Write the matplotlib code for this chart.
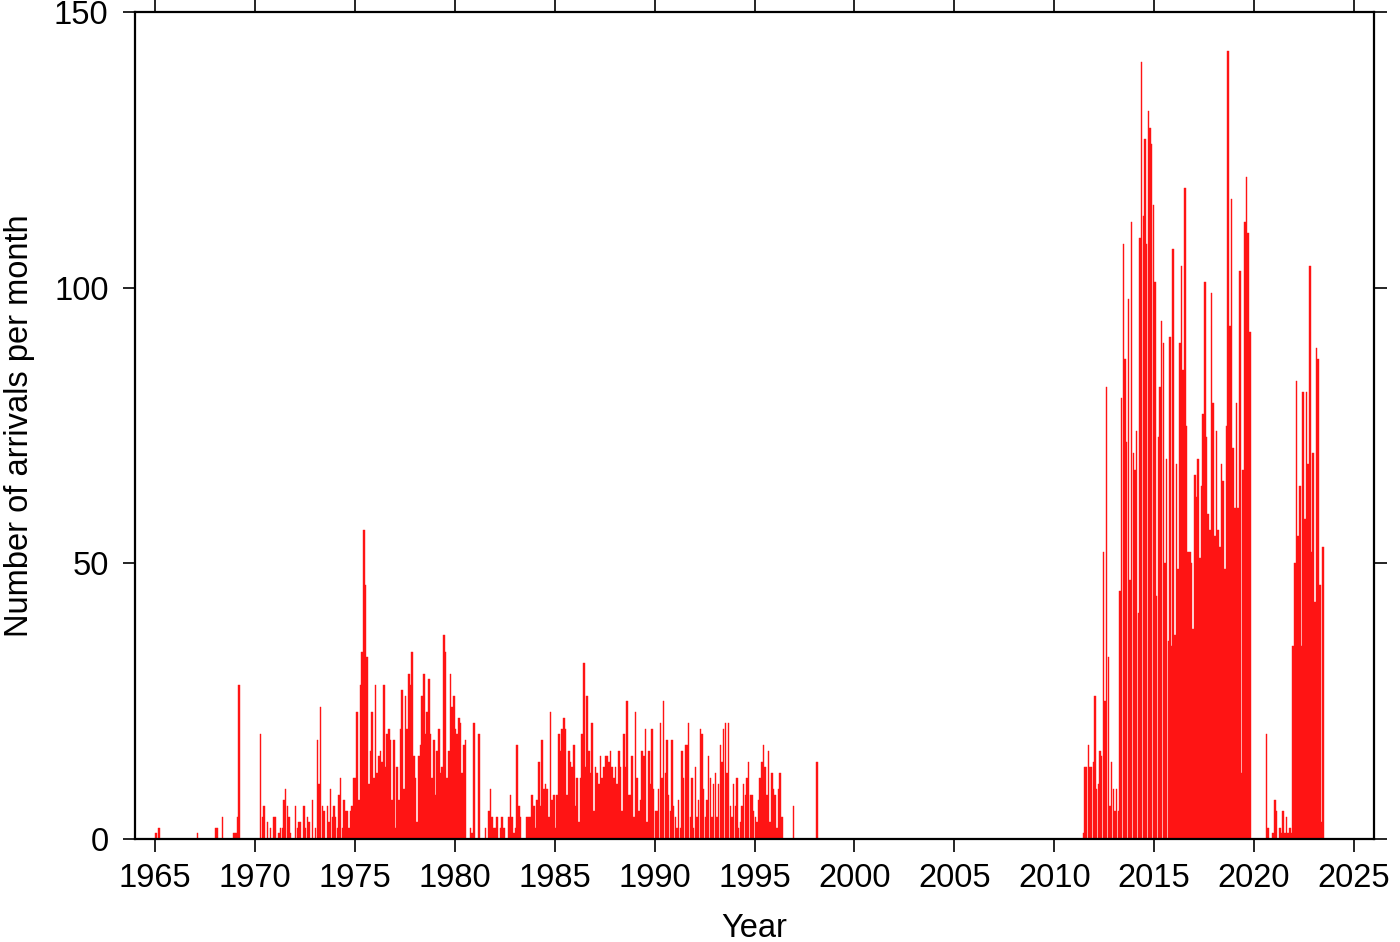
import matplotlib.pyplot as plt
import numpy as np

# monthly arrival counts, one row of 12 months per year
start_1965 = 1965
counts_1965 = [
    [1, 0, 2, 0, 0, 0, 0, 0, 0, 0, 0, 0],          # 1965
    [0, 0, 0, 0, 0, 0, 0, 0, 0, 0, 0, 0],          # 1966
    [0, 1, 0, 0, 0, 0, 0, 0, 0, 0, 0, 0],          # 1967
    [2, 2, 0, 0, 4, 0, 0, 0, 0, 0, 0, 1],          # 1968
    [1, 4, 28, 0, 0, 0, 0, 0, 0, 0, 0, 0],         # 1969
    [0, 0, 0, 19, 4, 6, 0, 3, 0, 2, 0, 4],         # 1970
    [4, 0, 1, 2, 2, 7, 9, 6, 4, 1, 0, 0],          # 1971
    [6, 2, 3, 3, 0, 6, 2, 4, 3, 0, 7, 0],          # 1972
    [2, 18, 10, 24, 6, 5, 0, 6, 3, 9, 4, 6],       # 1973
    [4, 2, 8, 11, 2, 7, 5, 5, 2, 5, 6, 11],        # 1974
    [11, 23, 7, 28, 34, 56, 46, 33, 10, 16, 23, 11],  # 1975
    [28, 12, 15, 16, 14, 28, 13, 19, 20, 18, 7, 18],  # 1976
    [2, 13, 7, 20, 27, 9, 26, 20, 30, 28, 34, 15],    # 1977
    [11, 3, 15, 17, 26, 30, 19, 23, 29, 19, 11, 18],  # 1978
    [8, 16, 20, 12, 13, 37, 34, 11, 16, 30, 24, 26],  # 1979
]

start_1980 = 1980
counts_1980 = [
    [20, 19, 22, 21, 12, 17, 18, 0, 0, 2, 1, 21],     # 1980
    [0, 0, 19, 0, 0, 0, 2, 0, 5, 9, 4, 2],            # 1981
    [2, 4, 0, 2, 4, 2, 0, 0, 4, 8, 4, 1],             # 1982
    [2, 17, 6, 4, 0, 0, 0, 4, 4, 4, 8, 6],            # 1983
    [2, 7, 14, 6, 18, 9, 10, 9, 4, 23, 7, 8],         # 1984
    [2, 8, 19, 16, 20, 22, 20, 8, 16, 14, 13, 17],    # 1985
    [6, 11, 3, 11, 19, 32, 13, 26, 16, 12, 21, 5],    # 1986
    [13, 12, 10, 15, 11, 13, 15, 15, 14, 16, 13, 11],  # 1987
    [13, 10, 16, 13, 5, 19, 13, 25, 8, 8, 15, 4],     # 1988
    [23, 11, 5, 7, 16, 15, 20, 3, 16, 10, 20, 9],     # 1989
    [5, 5, 9, 21, 11, 25, 12, 18, 8, 5, 18, 6],       # 1990
    [4, 2, 7, 2, 16, 11, 17, 17, 21, 4, 11, 2],       # 1991
    [13, 4, 7, 20, 19, 9, 4, 7, 15, 11, 4, 10],       # 1992
    [12, 4, 10, 17, 14, 20, 21, 12, 21, 6, 4, 10],    # 1993
    [6, 11, 2, 3, 6, 10, 8, 11, 14, 8, 8, 5],         # 1994
    [4, 3, 7, 11, 14, 17, 13, 8, 16, 3, 12, 9],       # 1995
    [8, 2, 9, 12, 4, 0, 0, 0, 0, 0, 0, 6],            # 1996
    [0, 0, 0, 0, 0, 0, 0, 0, 0, 0, 0, 0],             # 1997
    [0, 14, 0, 0, 0, 0, 0, 0, 0, 0, 0, 0],            # 1998
]

start_2011 = 2011
counts_2011 = [
    [0, 0, 0, 0, 0, 1, 13, 13, 17, 13, 13, 14],             # 2011
    [26, 9, 10, 16, 15, 52, 25, 82, 33, 6, 14, 9],          # 2012
    [5, 9, 5, 45, 80, 108, 87, 72, 98, 47, 112, 70],        # 2013
    [67, 74, 41, 109, 141, 113, 127, 108, 132, 129, 126, 115],  # 2014
    [101, 44, 73, 82, 94, 90, 50, 69, 36, 91, 35, 107],     # 2015
    [37, 68, 49, 90, 104, 85, 118, 75, 52, 52, 50, 38],     # 2016
    [66, 62, 69, 51, 64, 77, 101, 73, 59, 56, 99, 79],      # 2017
    [55, 74, 56, 53, 68, 65, 49, 75, 143, 93, 116, 71],     # 2018
    [60, 79, 60, 103, 12, 67, 112, 120, 110, 92, 0, 0],     # 2019
    [0, 0, 0, 0, 0, 0, 0, 19, 2, 0, 0, 1],                  # 2020
    [7, 5, 0, 2, 1, 5, 1, 4, 1, 2, 1, 35],                  # 2021
    [50, 83, 55, 64, 35, 81, 58, 81, 68, 104, 52, 70],      # 2022
    [43, 89, 87, 46, 3, 53, 0, 0, 0, 0, 0, 0],              # 2023
]


def to_series(start, rows):
    vals = np.array(rows, dtype=float).ravel()
    t = start + np.arange(len(vals)) / 12.0
    return t, vals


plt.rcParams['font.family'] = ['Liberation Sans', 'DejaVu Sans']

fig = plt.figure(figsize=(14, 9.42), dpi=100)
ax = fig.add_axes([135 / 1400, 1 - 839 / 942, (1374 - 135) / 1400, (839 - 12) / 942])

for start, rows in [(start_1965, counts_1965), (start_1980, counts_1980), (start_2011, counts_2011)]:
    t, v = to_series(start, rows)
    keep = v > 0
    ax.bar(t[keep], v[keep], width=0.95 / 12, align='edge', color='#ff1414',
           edgecolor='#ff1414', linewidth=0.3)

ax.set_xlim(1964, 2026)
ax.set_ylim(0, 150)
ax.set_xticks(np.arange(1965, 2026, 5))
ax.set_yticks([0, 50, 100, 150])

for s in ax.spines.values():
    s.set_linewidth(1.6)

ax.tick_params(axis='both', which='major', direction='out', length=9, width=1.2,
               labelsize=23.5, top=True, right=True, labeltop=False, labelright=False)
ax.tick_params(axis='x', pad=8)
ax.tick_params(axis='y', pad=10)

ax.set_xlabel('Year', fontsize=23.5, labelpad=14)
ax.set_ylabel('Number of arrivals per month', fontsize=23.5, labelpad=14)

fig.savefig('out.png', dpi=100)
